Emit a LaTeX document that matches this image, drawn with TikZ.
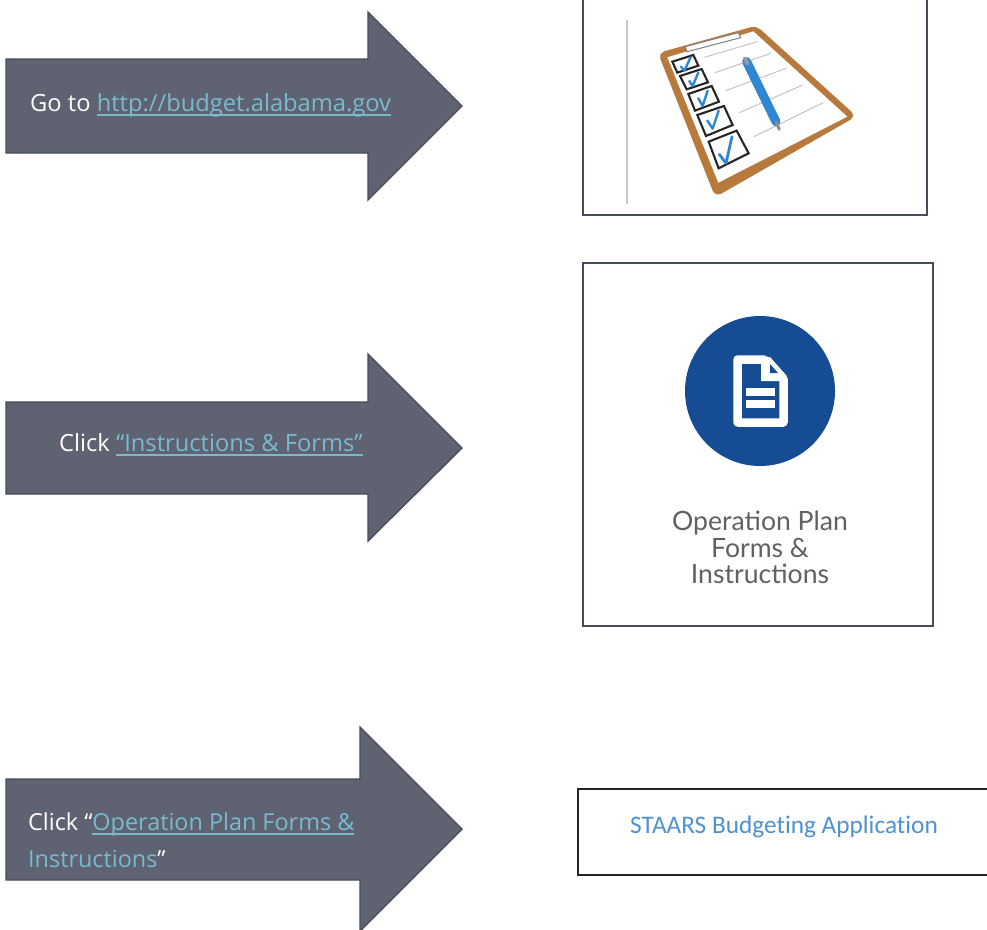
\documentclass[tikz,border=0pt]{standalone}
\usepackage{fontspec}
\setmainfont{Open Sans}
\newfontfamily\lblfont{Lato}
\newfontfamily\staarsfont[Ligatures=NoCommon]{Carlito}
\definecolor{arrowfill}{HTML}{5F6270}
\definecolor{arrowedge}{HTML}{484B59}
\definecolor{linkcol}{HTML}{78BBCF}
\definecolor{boardcol}{HTML}{B87A3C}
\definecolor{checkcol}{HTML}{2F86D2}
\definecolor{staarscol}{HTML}{4F92CE}
\definecolor{navy}{HTML}{164C94}
\newlength{\lnkw}
\newcommand{\lnk}[1]{\settowidth{\lnkw}{#1}\textcolor{linkcol}{\rlap{\rule[-4.8pt]{\lnkw}{1.5pt}}#1}}
\tikzset{
  bigarrow/.style={fill=arrowfill,draw=arrowedge,line width=1.4pt,line join=miter},
  arrowtext/.style={anchor=base west,inner sep=0pt,text=white,font=\fontsize{23.7}{27}\selectfont},
  arrowtextb/.style={arrowtext,font=\fontsize{23.4}{27}\selectfont},
  framebox/.style={draw=arrowedge,line width=2pt,fill=white},
  chkbox/.style={draw=black!85,line width=2.1pt,fill=white},
  chk/.style={draw=checkcol,line width=2.4pt,line cap=round,line join=round},
  ruled/.style={draw=black!25,line width=.9pt},
  oplabel/.style={inner sep=0pt,anchor=base,text=black!62,font=\lblfont\fontsize{26.6}{30}\selectfont},
}
\begin{document}
\begin{tikzpicture}[x=1pt,y=-1pt]
\useasboundingbox (0,0) rectangle (987,929);
\fill[white] (0,0) rectangle (987,929);
% arrows
\draw[bigarrow] (6,59) -- (368,59) -- (368,12) -- (462,106) -- (368,200) -- (368,153) -- (6,153) -- cycle;
\draw[bigarrow] (6,402) -- (368,402) -- (368,354) -- (462,448) -- (368,541) -- (368,494) -- (6,494) -- cycle;
\draw[bigarrow] (6,779) -- (360,779) -- (360,727) -- (462,829) -- (360,931) -- (360,880) -- (6,880) -- cycle;
\node[arrowtext] (t1) at (30,111) {Go to \lnk{http://budget.alabama.gov}};
\node[arrowtext] (t2) at (59,451) {Click \lnk{“Instructions \& Forms”}};
\node[arrowtextb] (t3a) at (28,830) {Click “\lnk{Operation Plan Forms \&}};
\node[arrowtextb] (t3b) at (28,867) {\textcolor{linkcol}{Instructions}”};
% frames
\draw[framebox] (583,-5) rectangle (927,215);
\draw[framebox] (583,263) rectangle (933,626);
\draw[framebox,draw=black!85] (578,789) rectangle (995,875);
% clipboard
\draw[draw=black!22,line width=1.2pt] (627,20) -- (627,204);
\begin{scope}[shift={(570,0)},x=.3333pt,y=-.3333pt]
  \filldraw[fill=boardcol,draw=boardcol,line width=3pt,rounded corners=5pt] (270,162) -- (558,82) -- (852,348) -- (438,585) -- cycle;
  \fill[white] (292,172) -- (550,94) -- (832,350) -- (445,548) -- cycle;
  \draw[fill=white,draw=black!50,line width=1pt] (345,140) -- (505,98) -- (512,113) -- (352,155) -- cycle;
  \draw[ruled] (403,172) -- (562,125);
  \draw[ruled] (435,218) -- (603,160);
  \draw[ruled] (467,272) -- (648,205);
  \draw[ruled] (508,338) -- (698,255);
  \draw[ruled] (552,410) -- (760,308);
  \draw[chkbox] (307,185) -- (370,165) -- (385,197) -- (322,218) -- cycle;
  \draw[chkbox] (330,228) -- (395,207) -- (414,247) -- (350,268) -- cycle;
  \draw[chkbox] (355,282) -- (425,258) -- (447,305) -- (375,332) -- cycle;
  \draw[chkbox] (382,345) -- (462,318) -- (488,375) -- (408,408) -- cycle;
  \draw[chkbox] (416,425) -- (500,392) -- (536,460) -- (446,505) -- cycle;
  \draw[chk] (333,200) -- (343,212) -- (362,172);
  \draw[chk] (358,243) -- (368,258) -- (385,218);
  \draw[chk] (385,295) -- (398,318) -- (413,272);
  \draw[chk] (412,362) -- (428,386) -- (446,332);
  \draw[chk,line width=2.8pt] (448,463) -- (468,490) -- (486,410);
  \draw[line width=9pt,draw=checkcol,line cap=round] (530,185) -- (618,365);
  \draw[line width=3pt,draw=black!45,line cap=round] (618,365) -- (628,388);
  \draw[line width=4pt,draw=black!40,line cap=round] (525,176) -- (532,190);
\end{scope}
% document icon
\fill[navy] (760,391) circle[radius=75];
\filldraw[fill=navy,draw=white,line width=8.5pt,line join=round] (737.5,359.5) -- (764,359.5) -- (783.5,379) -- (783.5,422.5) -- (737.5,422.5) -- cycle;
\fill[white] (761,357) -- (770,357) -- (786,375) -- (786,381) -- (761,381) -- cycle;
\fill[navy] (770,364) -- (778,373) -- (770,373) -- cycle;
\fill[white] (746,388) rectangle (775,396);
\fill[white] (746,400) rectangle (775,408);
\node[oplabel] (op1) at (760,530) {Operation Plan};
\node[oplabel] (op2) at (760,557) {Forms \&};
\node[oplabel] (op3) at (760,583) {Instructions};
\node[inner sep=0pt,anchor=base west,text=staarscol,font=\staarsfont\fontsize{25.3}{29}\selectfont] (st) at (630,833) {STAARS Budgeting Application};
\end{tikzpicture}
\end{document}
